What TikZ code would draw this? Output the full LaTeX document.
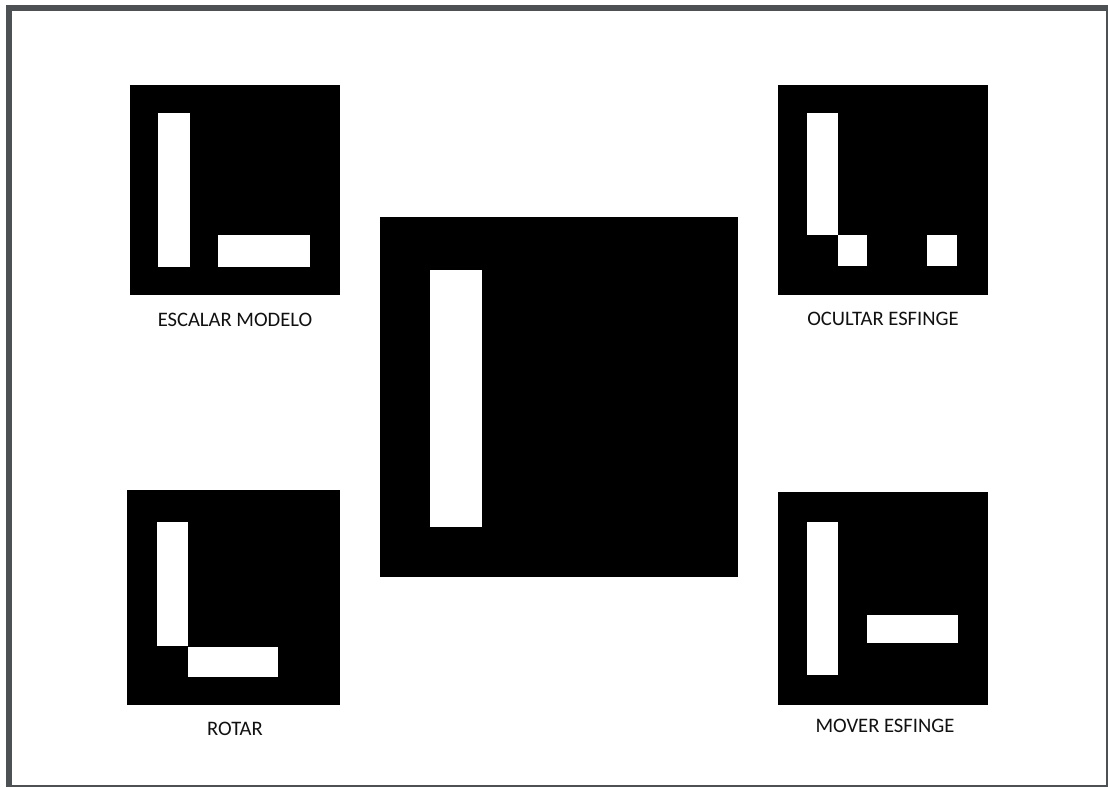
\documentclass[tikz,border=0pt]{standalone}
\usepackage{fontspec}
\setmainfont{Carlito}
\definecolor{framegray}{HTML}{4D5154}
\definecolor{captext}{HTML}{111111}
\begin{document}
\begin{tikzpicture}[x=1pt,y=-1pt,
  panel/.style={fill=black},
  blob/.style={fill=white},
  caption/.style={font=\fontsize{20.6}{24}\selectfont, text=captext, inner sep=0pt, anchor=center}]
\useasboundingbox (0,0) rectangle (1108,787);
\fill[white] (0,0) rectangle (1108,787);
% outer frame
\fill[framegray] (6,5) rectangle (1108,787);
\fill[white] (12,11) rectangle (1106,785);

% top-left: ESCALAR MODELO
\fill[panel] (130,85) rectangle (340,295);
\fill[blob] (158,113) rectangle (190,267);
\fill[blob] (218,235) rectangle (310,267);
\node[caption] (escalar) at (235,320) {ESCALAR MODELO};

% top-right: OCULTAR ESFINGE
\fill[panel] (778,85) rectangle (988,295);
\fill[blob] (807,113) rectangle (838,235);
\fill[blob] (838,235) rectangle (867,266);
\fill[blob] (927,235) rectangle (957,266);
\node[caption] (ocultar) at (883,319) {OCULTAR ESFINGE};

% bottom-left: ROTAR
\fill[panel] (127,490) rectangle (340,705);
\fill[blob] (157,522) rectangle (188,646);
\fill[blob] (188,647) rectangle (278,677);
\node[caption] (rotar) at (235,729) {ROTAR};

% bottom-right: MOVER ESFINGE
\fill[panel] (778,492) rectangle (988,705);
\fill[blob] (807,522) rectangle (838,675);
\fill[blob] (867,615) rectangle (958,643);
\node[caption] (mover) at (885,726) {MOVER ESFINGE};

% centre
\fill[panel] (380,217) rectangle (738,577);
\fill[blob] (430,270) rectangle (482,527);
\end{tikzpicture}
\end{document}
